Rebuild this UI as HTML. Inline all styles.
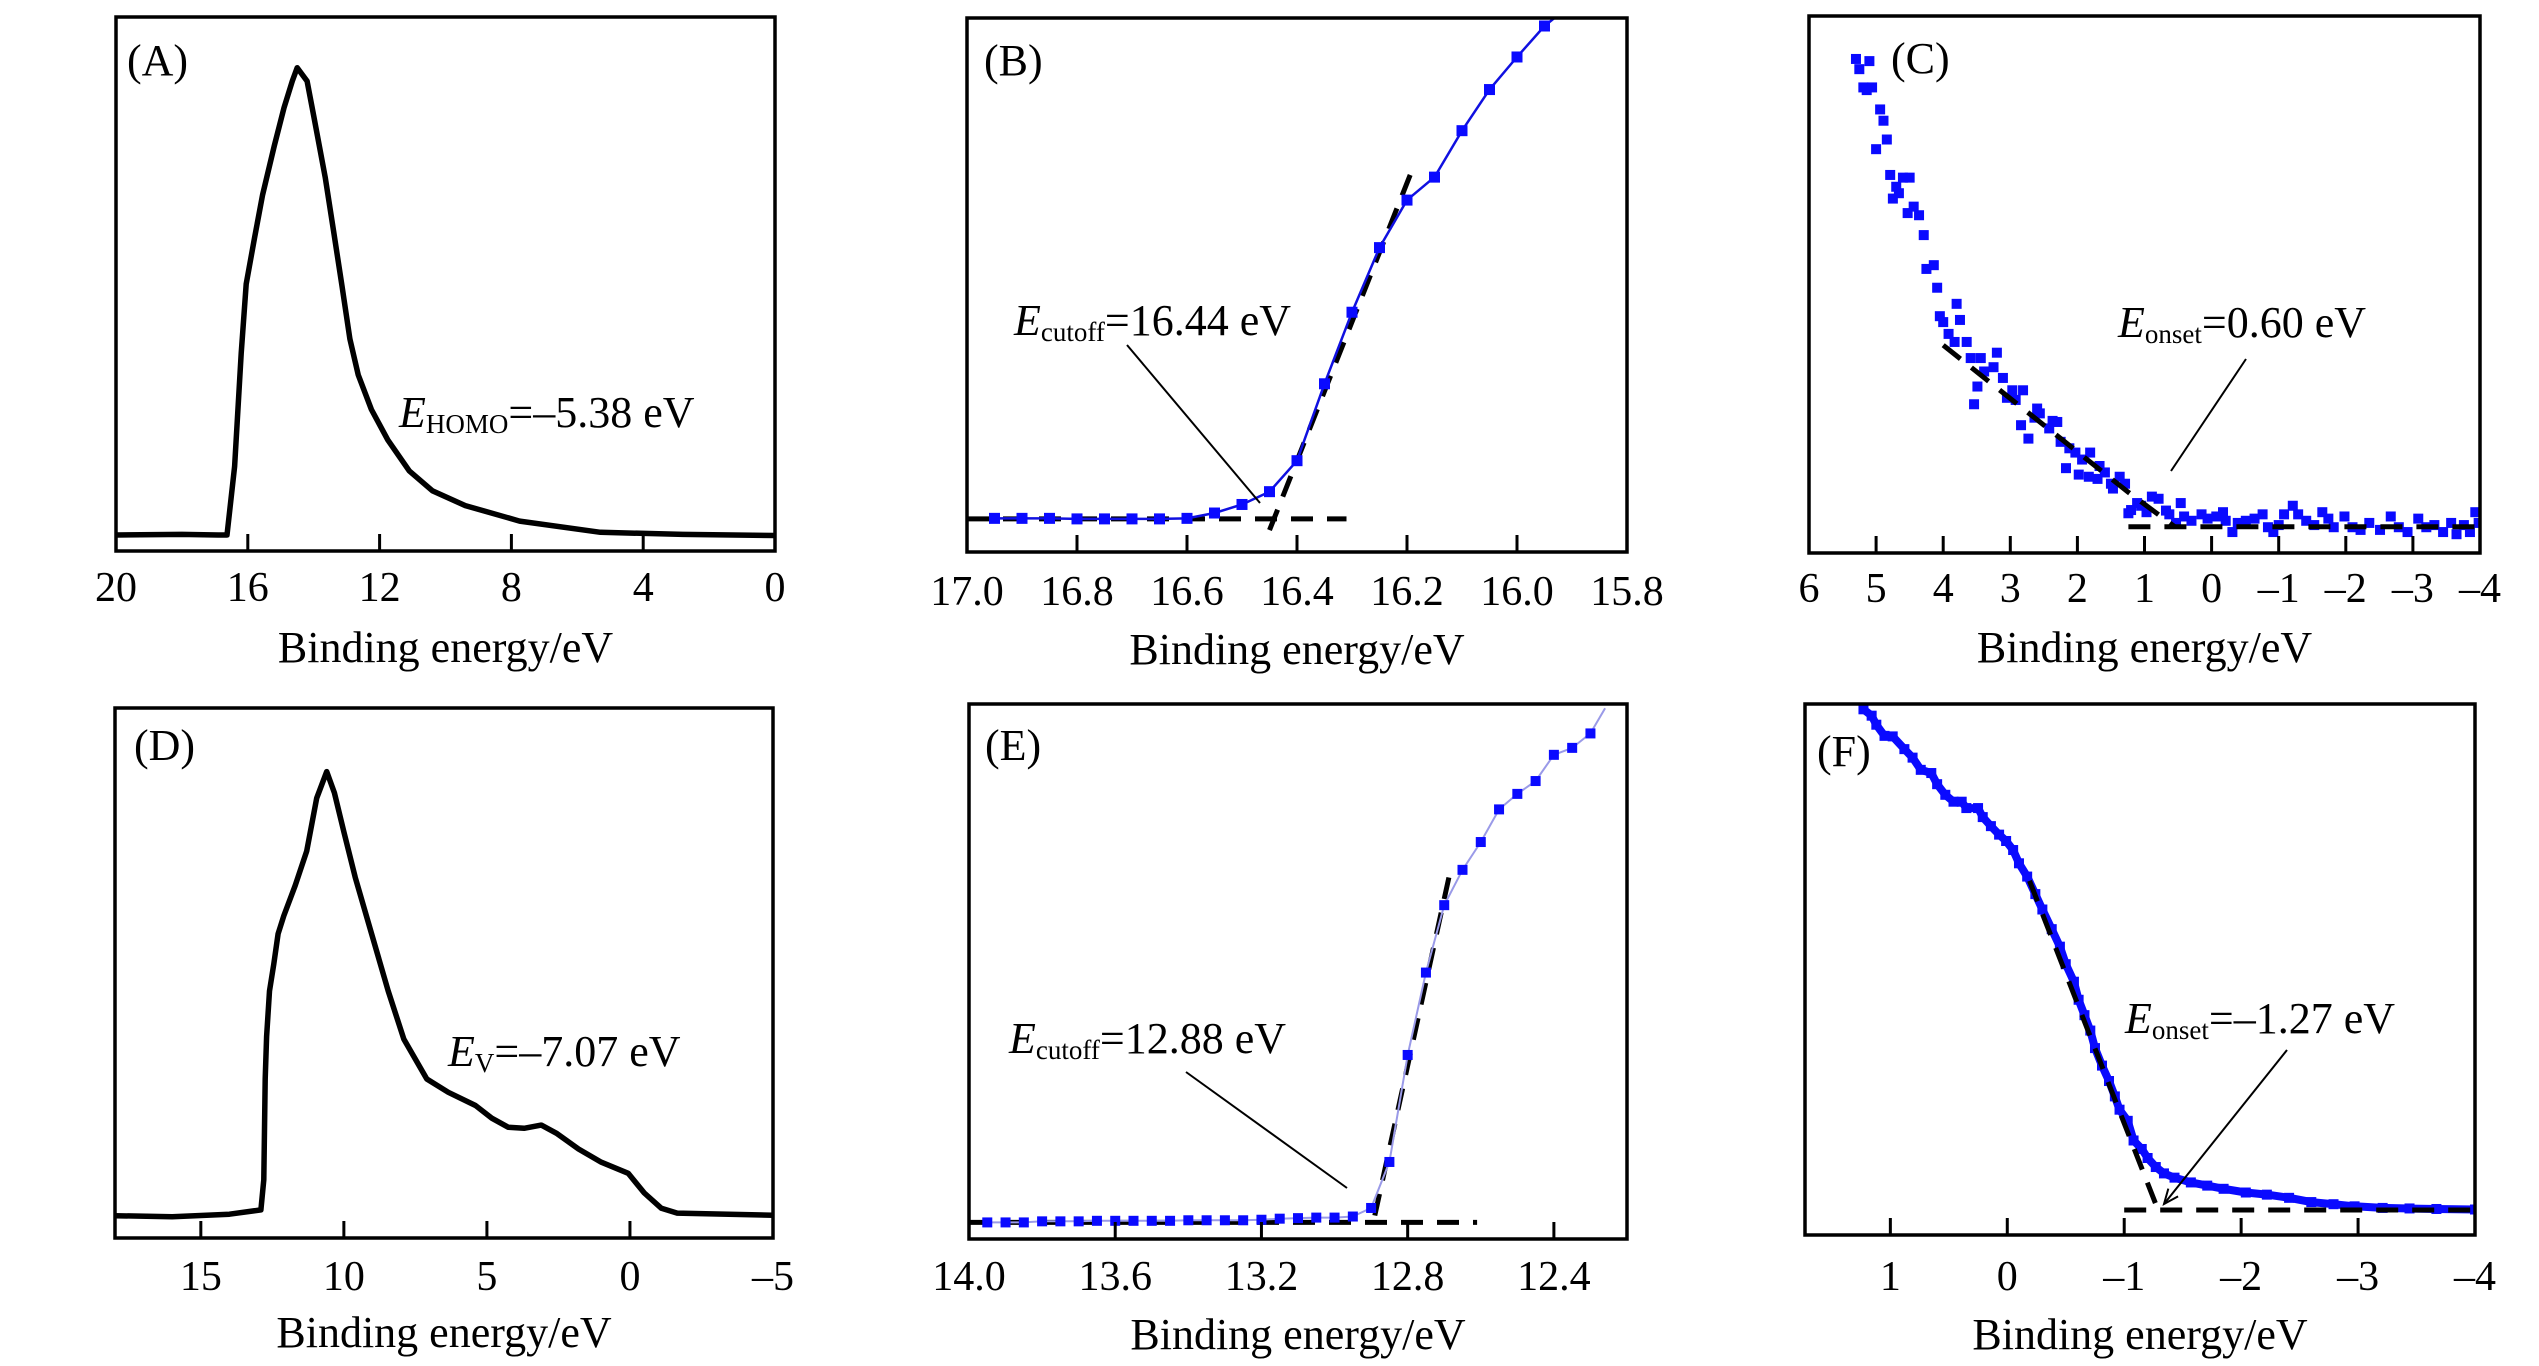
<!DOCTYPE html>
<html><head><meta charset="utf-8"><style>
html,body{margin:0;padding:0;background:#fff;}
svg{display:block;font-family:"Liberation Serif",serif;}
</style></head><body>
<svg id="fig" width="2539" height="1366" viewBox="0 0 2539 1366" xmlns="http://www.w3.org/2000/svg">
<rect width="2539" height="1366" fill="#fff"/>
<g id="layer"></g>
</svg>
<script>
// ---- Panel A data ----
const aX = [20,18,16.9,16.63,16.4,16.2,16.05,15.8,15.55,15.2,14.9,14.65,14.5,14.2,14.0,13.65,13.4,13.15,12.9,12.65,12.25,11.75,11.1,10.4,9.4,7.75,5.3,2.8,0];
const aY = [3.0,3.1,3.0,3.0,15.8,37,50,58.5,66.7,75.8,83,88,90.5,88,81.5,70,60,50,39.7,33,26.5,20.8,15,11.3,8.5,5.6,3.5,3.1,2.9];
const aTicks = [20,16,12,8,4,0];
const aTickLabels = ["20","16","12","8","4","0"];
// ---- Panel B data ----
const bX = [16.95,16.90,16.85,16.80,16.75,16.70,16.65,16.60,16.55,16.50,16.45,16.40,16.35,16.30,16.25,16.20,16.15,16.10,16.05,16.00,15.95];
const bY = [6.3,6.3,6.3,6.2,6.2,6.2,6.2,6.3,7.3,8.9,11.3,17.1,31.5,44.9,57.0,65.9,70.2,78.9,86.6,92.7,98.5];
const bFitFlatX = [17.0,16.31];
const bFitFlatY = [6.2,6.2];
const bFitSteepX = [16.45,16.19];
const bFitSteepY = [4.1,71.7];
const bTicks = [17.0,16.8,16.6,16.4,16.2,16.0,15.8];
const bTickLabels = ["17.0","16.8","16.6","16.4","16.2","16.0","15.8"];
// ---- Panel C data ----
const cX = [5.30,5.10,5.25,5.19,5.06,5.14,4.94,4.89,4.84,5.00,4.79,4.60,4.50,4.70,4.66,4.75,4.44,4.53,4.36,4.29,4.25,4.14,4.09,3.80,4.05,4.00,3.75,3.92,3.83,3.65,3.59,3.44,3.20,3.39,3.25,3.11,3.49,3.54,3.05,2.97,2.81,2.92,2.60,2.56,2.64,2.37,2.30,2.84,2.42,2.73,2.25,2.12,2.03,1.81,2.17,1.93,1.67,1.98,1.83,1.70,1.59,1.37,1.50,1.29,1.47,1.11,1.20,1.24,0.89,0.79,1.05,0.97,0.68,0.63,0.46,0.53,0.41,0.30,0.15,0.06,-0.07,-0.17,-0.21,-0.31,-0.39,-0.51,-0.64,-0.76,-0.84,-0.92,-1.00,-1.08,-1.21,-1.29,-1.41,-1.53,-1.65,-1.74,-1.82,-1.98,-2.10,-2.22,-2.35,-2.51,-2.67,-2.79,-2.92,-3.08,-3.20,-3.32,-3.45,-3.57,-3.65,-3.76,-3.85,-3.93,-3.98];
const cY = [92.0,91.6,90.1,86.7,86.7,86.2,82.6,80.5,77.0,75.2,70.4,69.9,69.9,68.2,67.0,66.0,64.5,63.3,62.9,59.2,52.9,53.6,49.4,46.4,44.1,43.0,43.4,40.8,39.3,39.3,36.3,36.3,37.3,33.8,34.6,32.6,31.0,27.7,28.9,30.3,30.3,28.5,26.9,26.0,25.2,24.6,24.4,23.8,23.2,21.3,20.7,19.5,18.7,18.7,15.8,17.4,16.2,14.6,14.2,13.8,15.0,14.2,12.9,12.9,12.0,9.3,8.0,7.4,10.5,10.1,8.8,7.6,7.9,7.2,9.3,5.6,6.8,6.0,7.2,6.4,6.8,7.6,6.0,3.9,5.6,6.0,6.4,7.2,4.8,3.9,5.2,7.2,8.8,7.2,6.0,5.2,7.6,6.4,4.8,6.8,4.8,4.3,5.6,4.3,6.8,4.8,3.9,6.4,4.8,5.2,3.9,5.6,3.5,5.2,3.9,7.6,5.6];
const cFitSlopeX = [4.0,1.24,0.54];
const cFitSlopeY = [38.7,11.3,4.8];
const cFitFlatX = [1.24,-4.0];
const cFitFlatY = [4.9,4.9];
const cTicks = [6,5,4,3,2,1,0,-1,-2,-3,-4];
const cTickLabels = ["6","5","4","3","2","1","0","–1","–2","–3","–4"];
// ---- Panel D data ----
const dX = [18,16,14,12.9,12.8,12.75,12.7,12.6,12.45,12.3,12.1,11.7,11.3,10.95,10.6,10.33,10.0,9.6,9.03,8.45,7.9,7.1,6.35,5.4,4.83,4.26,3.7,3.1,2.55,1.8,1.0,0.06,-0.5,-1.1,-1.65,-5];
const dY = [4.2,4.0,4.5,5.3,11,30,38,46.6,51.7,57.4,60.8,66.5,73,83,88,84,76.6,68,57.4,46.6,37.5,30,27.5,25,22.6,20.9,20.7,21.3,19.7,16.8,14.3,12.2,8.5,5.6,4.7,4.3];
const dTicks = [15,10,5,0,-5];
const dTickLabels = ["15","10","5","0","–5"];
// ---- Panel E data ----
const eX = [13.95,13.90,13.85,13.80,13.75,13.70,13.65,13.60,13.55,13.50,13.45,13.40,13.35,13.30,13.25,13.20,13.15,13.10,13.05,13.00,12.95,12.90,12.85,12.80,12.75,12.70,12.65,12.60,12.55,12.50,12.45,12.40,12.35,12.30];
const eY = [3.1,3.1,3.1,3.3,3.3,3.3,3.4,3.4,3.4,3.4,3.4,3.5,3.5,3.5,3.5,3.6,3.8,3.9,4.0,4.0,4.2,5.8,14.4,34.4,49.8,62.4,69.0,74.2,80.3,83.2,85.6,90.5,91.8,94.5];
const eLineEndX = [12.30,12.26];
const eLineEndY = [94.5,99.2];
const eFitFlatX = [14.0,12.61];
const eFitFlatY = [3.1,3.1];
const eFitSteepX = [12.89,12.68];
const eFitSteepY = [4.4,69.8];
const eTicks = [14.0,13.6,13.2,12.8,12.4];
const eTickLabels = ["14.0","13.6","13.2","12.8","12.4"];
// ---- Panel F data ----
const fX = [1.23,1.16,1.12,1.05,0.98,0.88,0.81,0.74,0.65,0.60,0.53,0.46,0.39,0.35,0.25,0.21,0.14,0.07,0.01,-0.05,-0.10,-0.17,-0.24,-0.30,-0.38,-0.45,-0.50,-0.57,-0.61,-0.66,-0.71,-0.75,-0.81,-0.87,-0.92,-0.96,-1.03,-1.08,-1.15,-1.20,-1.27,-1.34,-1.43,-1.57,-1.71,-1.85,-2.04,-2.22,-2.41,-2.60,-2.79,-2.97,-3.21,-3.44,-3.67,-4.00];
const fY = [99.0,97.8,96.1,94.0,93.9,91.5,89.9,87.6,87.0,84.9,82.9,81.6,81.6,80.4,80.4,78.7,77.0,75.4,74.2,72.5,70.0,67.5,64.2,61.3,57.6,54.3,51.0,47.7,44.3,41.4,38.5,35.2,31.9,29.0,26.1,23.6,21.5,17.8,16.2,14.5,12.8,11.6,10.8,9.9,9.3,8.7,8.0,7.6,7.0,6.2,5.8,5.4,5.1,5.0,4.9,4.8];
const fFitSlopeX = [-0.19,-1.27];
const fFitSlopeY = [66.7,5.8];
const fFitFlatX = [-1.0,-4.0];
const fFitFlatY = [4.7,4.7];
const fTicks = [1,0,-1,-2,-3,-4];
const fTickLabels = ["1","0","–1","–2","–3","–4"];

const NS = "http://www.w3.org/2000/svg";
const layer = document.getElementById('layer');
function mk(tag, attrs, parent){
  const e = document.createElementNS(NS, tag);
  for (const k in attrs) e.setAttribute(k, attrs[k]);
  (parent||layer).appendChild(e);
  return e;
}
function axes(x0,x1,y0,y1,d0,d1){
  return {
    sx: v => x0 + (v - d0) / (d1 - d0) * (x1 - x0),
    sy: v => y1 - v / 100 * (y1 - y0)
  };
}
let clipId = 0;
function panel(name, x0,x1,y0,y1,d0,d1, ticks, labels, letter, lblX, lblY, tickBase, titleBase){
  const g = mk('g', {});
  
  
  const id = 'clip' + (clipId++);
  const cp = mk('clipPath', {id: id}, g);
  mk('rect', {x: x0, y: y0, width: x1 - x0, height: y1 - y0}, cp);
  const plot = mk('g', {'clip-path': 'url(#' + id + ')'}, g);
  
  
  const frame = mk('rect', {x: x0, y: y0, width: x1 - x0, height: y1 - y0, fill: 'none', stroke: '#000', 'stroke-width': 3.5}, g);
  
  
  const ax = axes(x0,x1,y0,y1,d0,d1);
  ticks.forEach((t, i) => {
    const x = ax.sx(t);
    if (Math.abs(x - x0) > 3 && Math.abs(x - x1) > 3) {
      const tk = mk('line', {x1: x, x2: x, y1: y1, y2: y1 - 17, stroke: '#000', 'stroke-width': 3}, g);
      
      
    }
    const tl = mk('text', {x: x, y: tickBase, 'font-size': 42, 'text-anchor': 'middle'}, g);
    tl.textContent = labels[i];
    
    
  });
  const tt = mk('text', {x: (x0 + x1) / 2, y: titleBase, 'font-size': 44, 'text-anchor': 'middle'}, g);
  tt.textContent = 'Binding energy/eV';
  
  
  const pl = mk('text', {x: lblX, y: lblY, 'font-size': 44}, g);
  pl.textContent = letter;
  
  
  return {g, plot, ax};
}
function line(p, xs, ys, attrs, nm){
  const pts = xs.map((v, i) => p.ax.sx(v).toFixed(1) + ',' + p.ax.sy(ys[i]).toFixed(1)).join(' ');
  const e = mk('polyline', Object.assign({points: pts, fill: 'none', 'stroke-linejoin': 'round'}, attrs), p.plot);
  
  
  return e;
}
function squares(p, xs, ys, size, color, nm){
  const g = mk('g', {fill: color}, p.plot);
  
  
  xs.forEach((v, i) => {
    const r = mk('rect', {x: p.ax.sx(v) - size / 2, y: p.ax.sy(ys[i]) - size / 2, width: size, height: size}, g);
    
    
  });
}
const DASH = {stroke: '#000', 'stroke-width': 5, 'stroke-dasharray': '22 14'};
function annot(g, x, y, sub, rest, nm){
  const t = mk('text', {x: x, y: y, 'font-size': 44}, g);
  
  
  const a = mk('tspan', {'font-style': 'italic'}, t); a.textContent = 'E';
  const b = mk('tspan', {'font-size': 27, dy: 6}, t); b.textContent = sub;
  const c = mk('tspan', {dy: -6}, t); c.textContent = rest;
}
function leader(g, xa, ya, xb, yb, arrow, nm){
  const l = mk('line', {x1: xa, y1: ya, x2: xb, y2: yb, stroke: '#000', 'stroke-width': 2}, g);
  
  
  if (arrow) {
    const ang = Math.atan2(yb - ya, xb - xa), L = 16, w = 0.4;
    const p1 = [xb - L * Math.cos(ang - w), yb - L * Math.sin(ang - w)];
    const p2 = [xb - L * Math.cos(ang + w), yb - L * Math.sin(ang + w)];
    const h = mk('polyline', {points: p1.join(',') + ' ' + xb + ',' + yb + ' ' + p2.join(','), fill: 'none', stroke: '#000', 'stroke-width': 2}, g);
    
    
  }
}

// Panel A
const pA = panel('a', 116,775,17,551, 20,0, aTicks, aTickLabels, '(A)', 127, 75, 601, 662);
line(pA, aX, aY, {stroke: '#000', 'stroke-width': 5.5}, 'spectrum-a');
annot(pA.g, 399, 427, 'HOMO', '=–5.38 eV', 'homo-annotation');

// Panel B
const pB = panel('b', 967,1627,18,552, 17.0,15.8, bTicks, bTickLabels, '(B)', 984, 75, 605, 664);
line(pB, bFitFlatX, bFitFlatY, DASH, 'fit-baseline-b');
line(pB, bFitSteepX, bFitSteepY, DASH, 'fit-slope-b');
line(pB, bX, bY, {stroke: '#1010e0', 'stroke-width': 2.5}, 'spectrum-line-b');
line(pB, [bX[bX.length-1], 15.92], [bY[bY.length-1], 101], {stroke: '#1010e0', 'stroke-width': 2.5}, 'spectrum-line-end-b');
squares(pB, bX, bY, 11, '#0a0aff', 'markers-b');
annot(pB.g, 1014, 335, 'cutoff', '=16.44 eV', 'cutoff-annotation-b');
leader(pB.g, 1127, 345, 1260, 503, false, 'leader-b');

// Panel C
const pC = panel('c', 1809,2480,16,553, 6,-4, cTicks, cTickLabels, '(C)', 1891, 73, 602, 662);
squares(pC, cX, cY, 10, '#0a0aff', 'markers-c');
line(pC, cFitSlopeX, cFitSlopeY, DASH, 'fit-slope-c');
line(pC, cFitFlatX, cFitFlatY, DASH, 'fit-baseline-c');
annot(pC.g, 2118, 337, 'onset', '=0.60 eV', 'onset-annotation-c');
leader(pC.g, 2246, 359, 2171, 471, false, 'leader-c');

// Panel D
const pD = panel('d', 115,773,708,1238, 18,-5, dTicks, dTickLabels, '(D)', 134, 760, 1290, 1347);
line(pD, dX, dY, {stroke: '#000', 'stroke-width': 5.5}, 'spectrum-d');
annot(pD.g, 448, 1066, 'V', '=–7.07 eV', 'ev-annotation');

// Panel E
const pE = panel('e', 969,1627,704,1239, 14.0,12.2, eTicks, eTickLabels, '(E)', 985, 760, 1290, 1349);
line(pE, eFitFlatX, eFitFlatY, DASH, 'fit-baseline-e');
line(pE, eFitSteepX, eFitSteepY, DASH, 'fit-slope-e');
line(pE, eX, eY, {stroke: '#9a9ae8', 'stroke-width': 2}, 'spectrum-line-e');
line(pE, eLineEndX, eLineEndY, {stroke: '#9a9ae8', 'stroke-width': 2}, 'spectrum-line-end-e');
squares(pE, eX, eY, 10, '#0a0aff', 'markers-e');
annot(pE.g, 1009, 1053, 'cutoff', '=12.88 eV', 'cutoff-annotation-e');
leader(pE.g, 1186, 1072, 1347, 1188, false, 'leader-e');

// Panel F
const pF = panel('f', 1805,2475,704,1235, 1.73,-4, fTicks, fTickLabels, '(F)', 1817, 766, 1290, 1349);
line(pF, fX, fY, {stroke: '#0a0aff', 'stroke-width': 8}, 'spectrum-line-f');
squares(pF, fX, fY, 10, '#0a0aff', 'markers-f');
line(pF, fFitSlopeX, fFitSlopeY, DASH, 'fit-slope-f');
line(pF, fFitFlatX, fFitFlatY, DASH, 'fit-baseline-f');
annot(pF.g, 2125, 1033, 'onset', '=–1.27 eV', 'onset-annotation-f');
leader(pF.g, 2287, 1050, 2164, 1204, true, 'arrow-f');
</script>
</body></html>
